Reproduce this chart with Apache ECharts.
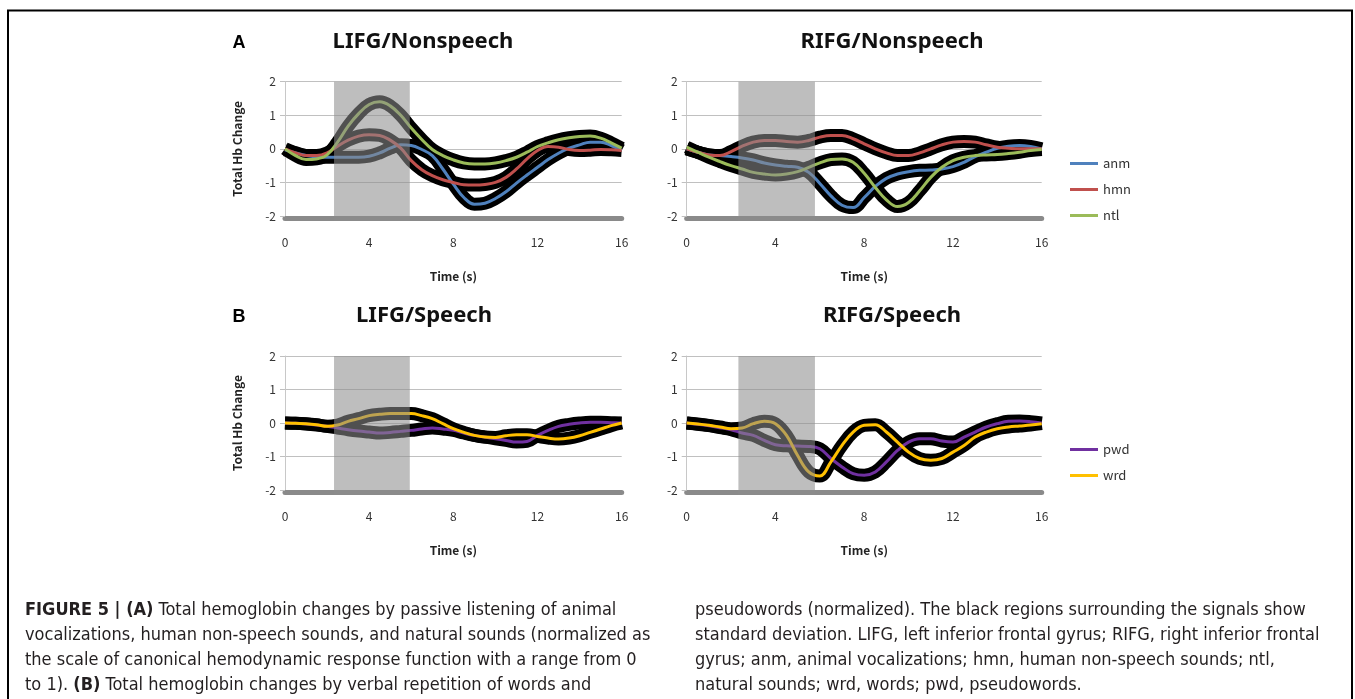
<!DOCTYPE html>
<html><head><meta charset="utf-8">
<script src="https://cdn.jsdelivr.net/npm/echarts@6/dist/echarts.min.js"></script>
<style>html,body{margin:0;padding:0;background:#fff}#c{width:1355px;height:699px}</style>
</head><body><div id="c"></div>
<script>
// ---- data ----
const time = [0,0.5,1,1.5,2,2.5,3,3.5,4,4.5,5,5.5,6,6.5,7,7.5,8,8.5,9,9.5,10,10.5,11,11.5,12,12.5,13,13.5,14,14.5,15,15.5,16];
const xTicks = [0,4,8,12,16];
const yTicks = [-2,-1,0,1,2];
const panelTitles = ['LIFG/Nonspeech','RIFG/Nonspeech','LIFG/Speech','RIFG/Speech'];
const nonspeechNames = ['anm','hmn','ntl'];
const speechNames = ['pwd','wrd'];
// stimulus window (s) per panel
const stimWindows = [[2.33,5.93],[2.33,5.78],[2.33,5.93],[2.33,5.78]];

const lifgNonAnm = [-0.03,-0.12,-0.2,-0.24,-0.25,-0.25,-0.25,-0.25,-0.22,-0.12,0.02,0.12,0.1,-0.02,-0.2,-0.6,-1.05,-1.45,-1.65,-1.62,-1.48,-1.28,-1.02,-0.78,-0.55,-0.32,-0.13,0.02,0.12,0.2,0.2,0.1,-0.05];
const lifgNonHmn = [0.0,-0.12,-0.2,-0.2,-0.12,0.08,0.26,0.38,0.42,0.4,0.26,0.02,-0.35,-0.62,-0.8,-0.92,-1.0,-1.07,-1.08,-1.06,-1.0,-0.85,-0.6,-0.3,-0.05,0.07,0.05,-0.02,-0.05,-0.04,-0.02,-0.03,-0.05];
const lifgNonNtl = [0.0,-0.2,-0.32,-0.3,-0.18,0.2,0.68,1.05,1.32,1.4,1.28,1.0,0.62,0.28,-0.02,-0.2,-0.33,-0.42,-0.45,-0.45,-0.42,-0.35,-0.25,-0.1,0.07,0.18,0.27,0.33,0.37,0.38,0.32,0.18,0.02];

const rifgNonAnm = [0.0,-0.1,-0.18,-0.2,-0.23,-0.27,-0.33,-0.42,-0.48,-0.52,-0.55,-0.7,-1.03,-1.4,-1.68,-1.75,-1.45,-1.12,-0.88,-0.75,-0.68,-0.64,-0.63,-0.6,-0.53,-0.4,-0.23,-0.1,0.02,0.08,0.1,0.07,0.0];
const rifgNonHmn = [0.0,-0.1,-0.18,-0.2,-0.08,0.08,0.2,0.25,0.25,0.22,0.2,0.25,0.35,0.4,0.4,0.3,0.15,0.0,-0.12,-0.2,-0.2,-0.12,0.0,0.12,0.2,0.22,0.2,0.12,0.05,0.02,0.0,0.0,0.0];
const rifgNonNtl = [0.05,-0.1,-0.25,-0.38,-0.5,-0.6,-0.7,-0.75,-0.78,-0.75,-0.68,-0.55,-0.42,-0.32,-0.3,-0.4,-0.73,-1.15,-1.52,-1.72,-1.6,-1.25,-0.85,-0.55,-0.35,-0.25,-0.2,-0.18,-0.17,-0.14,-0.1,-0.05,-0.02];

const lifgSpPwd = [0.0,-0.01,-0.03,-0.06,-0.1,-0.15,-0.2,-0.24,-0.27,-0.3,-0.28,-0.25,-0.22,-0.18,-0.15,-0.18,-0.22,-0.3,-0.37,-0.42,-0.47,-0.52,-0.57,-0.55,-0.37,-0.22,-0.1,-0.04,0.0,0.02,0.02,0.01,0.0];
const lifgSpWrd = [0.0,-0.01,-0.02,-0.05,-0.1,-0.06,0.05,0.13,0.22,0.26,0.28,0.28,0.28,0.22,0.13,-0.02,-0.17,-0.28,-0.37,-0.42,-0.43,-0.38,-0.35,-0.35,-0.4,-0.45,-0.48,-0.45,-0.38,-0.28,-0.18,-0.08,0.0];

const rifgSpPwd = [0.0,-0.04,-0.08,-0.14,-0.2,-0.3,-0.37,-0.52,-0.65,-0.68,-0.69,-0.7,-0.77,-1.06,-1.31,-1.51,-1.56,-1.46,-1.16,-0.82,-0.57,-0.47,-0.47,-0.54,-0.57,-0.42,-0.27,-0.12,-0.02,0.05,0.06,0.04,0.0];
const rifgSpWrd = [0.0,-0.03,-0.07,-0.12,-0.17,-0.15,-0.02,0.05,-0.02,-0.37,-0.97,-1.46,-1.58,-1.16,-0.67,-0.27,-0.07,-0.05,-0.27,-0.57,-0.87,-1.06,-1.11,-1.06,-0.87,-0.67,-0.42,-0.27,-0.17,-0.12,-0.09,-0.06,-0.02];

const captionLeft = [
  '{b|FIGURE 5 | (A)} Total hemoglobin changes by passive listening of animal',
  'vocalizations, human non-speech sounds, and natural sounds (normalized as',
  'the scale of canonical hemodynamic response function with a range from 0',
  'to 1). {b|(B)} Total hemoglobin changes by verbal repetition of words and'
];
const captionRight = [
  'pseudowords (normalized). The black regions surrounding the signals show',
  'standard deviation. LIFG, left inferior frontal gyrus; RIFG, right inferior frontal',
  'gyrus; anm, animal vocalizations; hmn, human non-speech sounds; ntl,',
  'natural sounds; wrd, words; pwd, pseudowords.'
];

// ---- styling / layout ----
const FONT = "'Noto Sans CJK KR','Noto Sans',sans-serif";
const TFONT = "'Noto Sans','Open Sans',sans-serif";
const CAPFONT = "'Liberation Sans Narrow','DejaVu Sans Condensed','Liberation Sans',sans-serif";
const colorMap = {anm:'#4f81bd', hmn:'#c0504d', ntl:'#9bbb59', pwd:'#7030a0', wrd:'#ffc000'};
const grids = [
  {left:285, top:81.7, width:336.7, height:134.3},
  {left:686.7, top:81.7, width:355, height:134.3},
  {left:285, top:356, width:336.7, height:134},
  {left:686.7, top:356, width:355, height:134}
];
const panelData = [
  {names: nonspeechNames, vals: [lifgNonAnm, lifgNonHmn, lifgNonNtl]},
  {names: nonspeechNames, vals: [rifgNonAnm, rifgNonHmn, rifgNonNtl]},
  {names: speechNames, vals: [lifgSpPwd, lifgSpWrd]},
  {names: speechNames, vals: [rifgSpPwd, rifgSpWrd]}
];

const xAxes = [], yAxes = [], series = [];
grids.forEach((g, i) => {
  xAxes.push({
    gridIndex: i, type: 'value', min: xTicks[0], max: xTicks[xTicks.length-1], interval: 4,
    offset: 2.5,
    axisLine: {show: true, onZero: false, lineStyle: {color: '#8a8a8a', width: 5}},
    axisTick: {show: false}, splitLine: {show: false},
    axisLabel: {margin: 18, fontSize: 12, color: '#333', fontFamily: FONT},
    name: 'Time (s)', nameLocation: 'middle', nameGap: 52,
    nameTextStyle: {fontWeight: 'bold', fontSize: 12, color: '#222', fontFamily: FONT}
  });
  yAxes.push({
    gridIndex: i, type: 'value', min: yTicks[0], max: yTicks[yTicks.length-1], interval: 1,
    axisLine: {show: true, onZero: false, lineStyle: {color: '#c8c8c8', width: 1}},
    axisTick: {show: true, length: 5, lineStyle: {color: '#c0c0c0'}},
    splitLine: {show: true, lineStyle: {color: '#c0c0c0', width: 1}},
    axisLabel: {margin: 9, fontSize: 12, color: '#333', fontFamily: FONT},
    name: (i % 2 === 0) ? 'Total Hb Change' : '', nameLocation: 'middle', nameGap: 42,
    nameTextStyle: {fontWeight: 'bold', fontSize: 12, color: '#222', fontFamily: FONT}
  });
  const pd = panelData[i];
  pd.names.forEach((n, k) => {
    const d = time.map((t, j) => [t, pd.vals[k][j]]);
    series.push({
      type: 'line', name: n + ' SD', xAxisIndex: i, yAxisIndex: i, data: d,
      smooth: 0.4, showSymbol: false, silent: true, clip: false,
      lineStyle: {color: '#000', width: 13}, z: 2
    });
  });
  pd.names.forEach((n, k) => {
    const d = time.map((t, j) => [t, pd.vals[k][j]]);
    series.push({
      type: 'line', name: n, xAxisIndex: i, yAxisIndex: i, data: d,
      smooth: 0.4, showSymbol: false, silent: true, clip: false,
      itemStyle: {color: colorMap[n]},
      lineStyle: {color: colorMap[n], width: 3}, z: 3
    });
  });
  series.push({
    type: 'custom', xAxisIndex: i, yAxisIndex: i, z: 6, silent: true, clip: false,
    encode: {x: [0, 1], y: [2, 3]},
    data: [[stimWindows[i][0], stimWindows[i][1], 2, -2.15]],
    renderItem: (params, api) => {
      const p0 = api.coord([api.value(0), api.value(2)]);
      const p1 = api.coord([api.value(1), api.value(3)]);
      return {type: 'rect', shape: {x: p0[0], y: p0[1], width: p1[0]-p0[0], height: p1[1]-p0[1]},
        style: {fill: 'rgba(140,140,140,0.57)'}};
    }
  });
});

const titlePos = [[423,42],[892,42],[424,316],[892,316]];
const graphics = [];
panelTitles.forEach((t, i) => graphics.push({
  type: 'text', x: titlePos[i][0], y: titlePos[i][1],
  style: {text: t, font: 'bold 22px ' + TFONT, fill: '#111', textAlign: 'center', textVerticalAlign: 'middle'}
}));
graphics.push({type:'text', x:239, y:43, style:{text:'A', font:'bold 18px Arial, "Liberation Sans", sans-serif', fill:'#000', textAlign:'center', textVerticalAlign:'middle'}});
graphics.push({type:'text', x:239, y:317, style:{text:'B', font:'bold 18px Arial, "Liberation Sans", sans-serif', fill:'#000', textAlign:'center', textVerticalAlign:'middle'}});
graphics.push({type:'polyline', shape:{points:[[8,700],[8,10.5],[1352,10.5],[1352,700]]}, style:{stroke:'#000', lineWidth:2, fill:null}});
const capRich = {b: {fontWeight: 'bold', fontFamily: CAPFONT, fontSize: 18, fill: '#231f20'}};
captionLeft.forEach((t, k) => graphics.push({
  type: 'text', x: 25, y: 610 + 25*k,
  style: {text: t, fontFamily: CAPFONT, fontSize: 18, fill: '#231f20', textVerticalAlign: 'middle', rich: capRich}
}));
captionRight.forEach((t, k) => graphics.push({
  type: 'text', x: 695, y: 610 + 25*k,
  style: {text: t, fontFamily: CAPFONT, fontSize: 18, fill: '#231f20', textVerticalAlign: 'middle', rich: capRich}
}));

const legendCommon = {orient: 'vertical', icon: 'rect', itemWidth: 28, itemHeight: 3, itemGap: 13,
  textStyle: {fontSize: 13, color: '#333', fontFamily: FONT}, selectedMode: false};

const chart = echarts.init(document.getElementById('c'), null, {renderer: 'canvas'});
chart.setOption({
  backgroundColor: '#fff',
  animation: false,
  grid: grids,
  xAxis: xAxes,
  yAxis: yAxes,
  legend: [
    Object.assign({data: nonspeechNames, left: 1065, top: 152}, legendCommon),
    Object.assign({data: speechNames, left: 1065, top: 438}, legendCommon)
  ],
  series: series,
  graphic: graphics
});
</script></body></html>
